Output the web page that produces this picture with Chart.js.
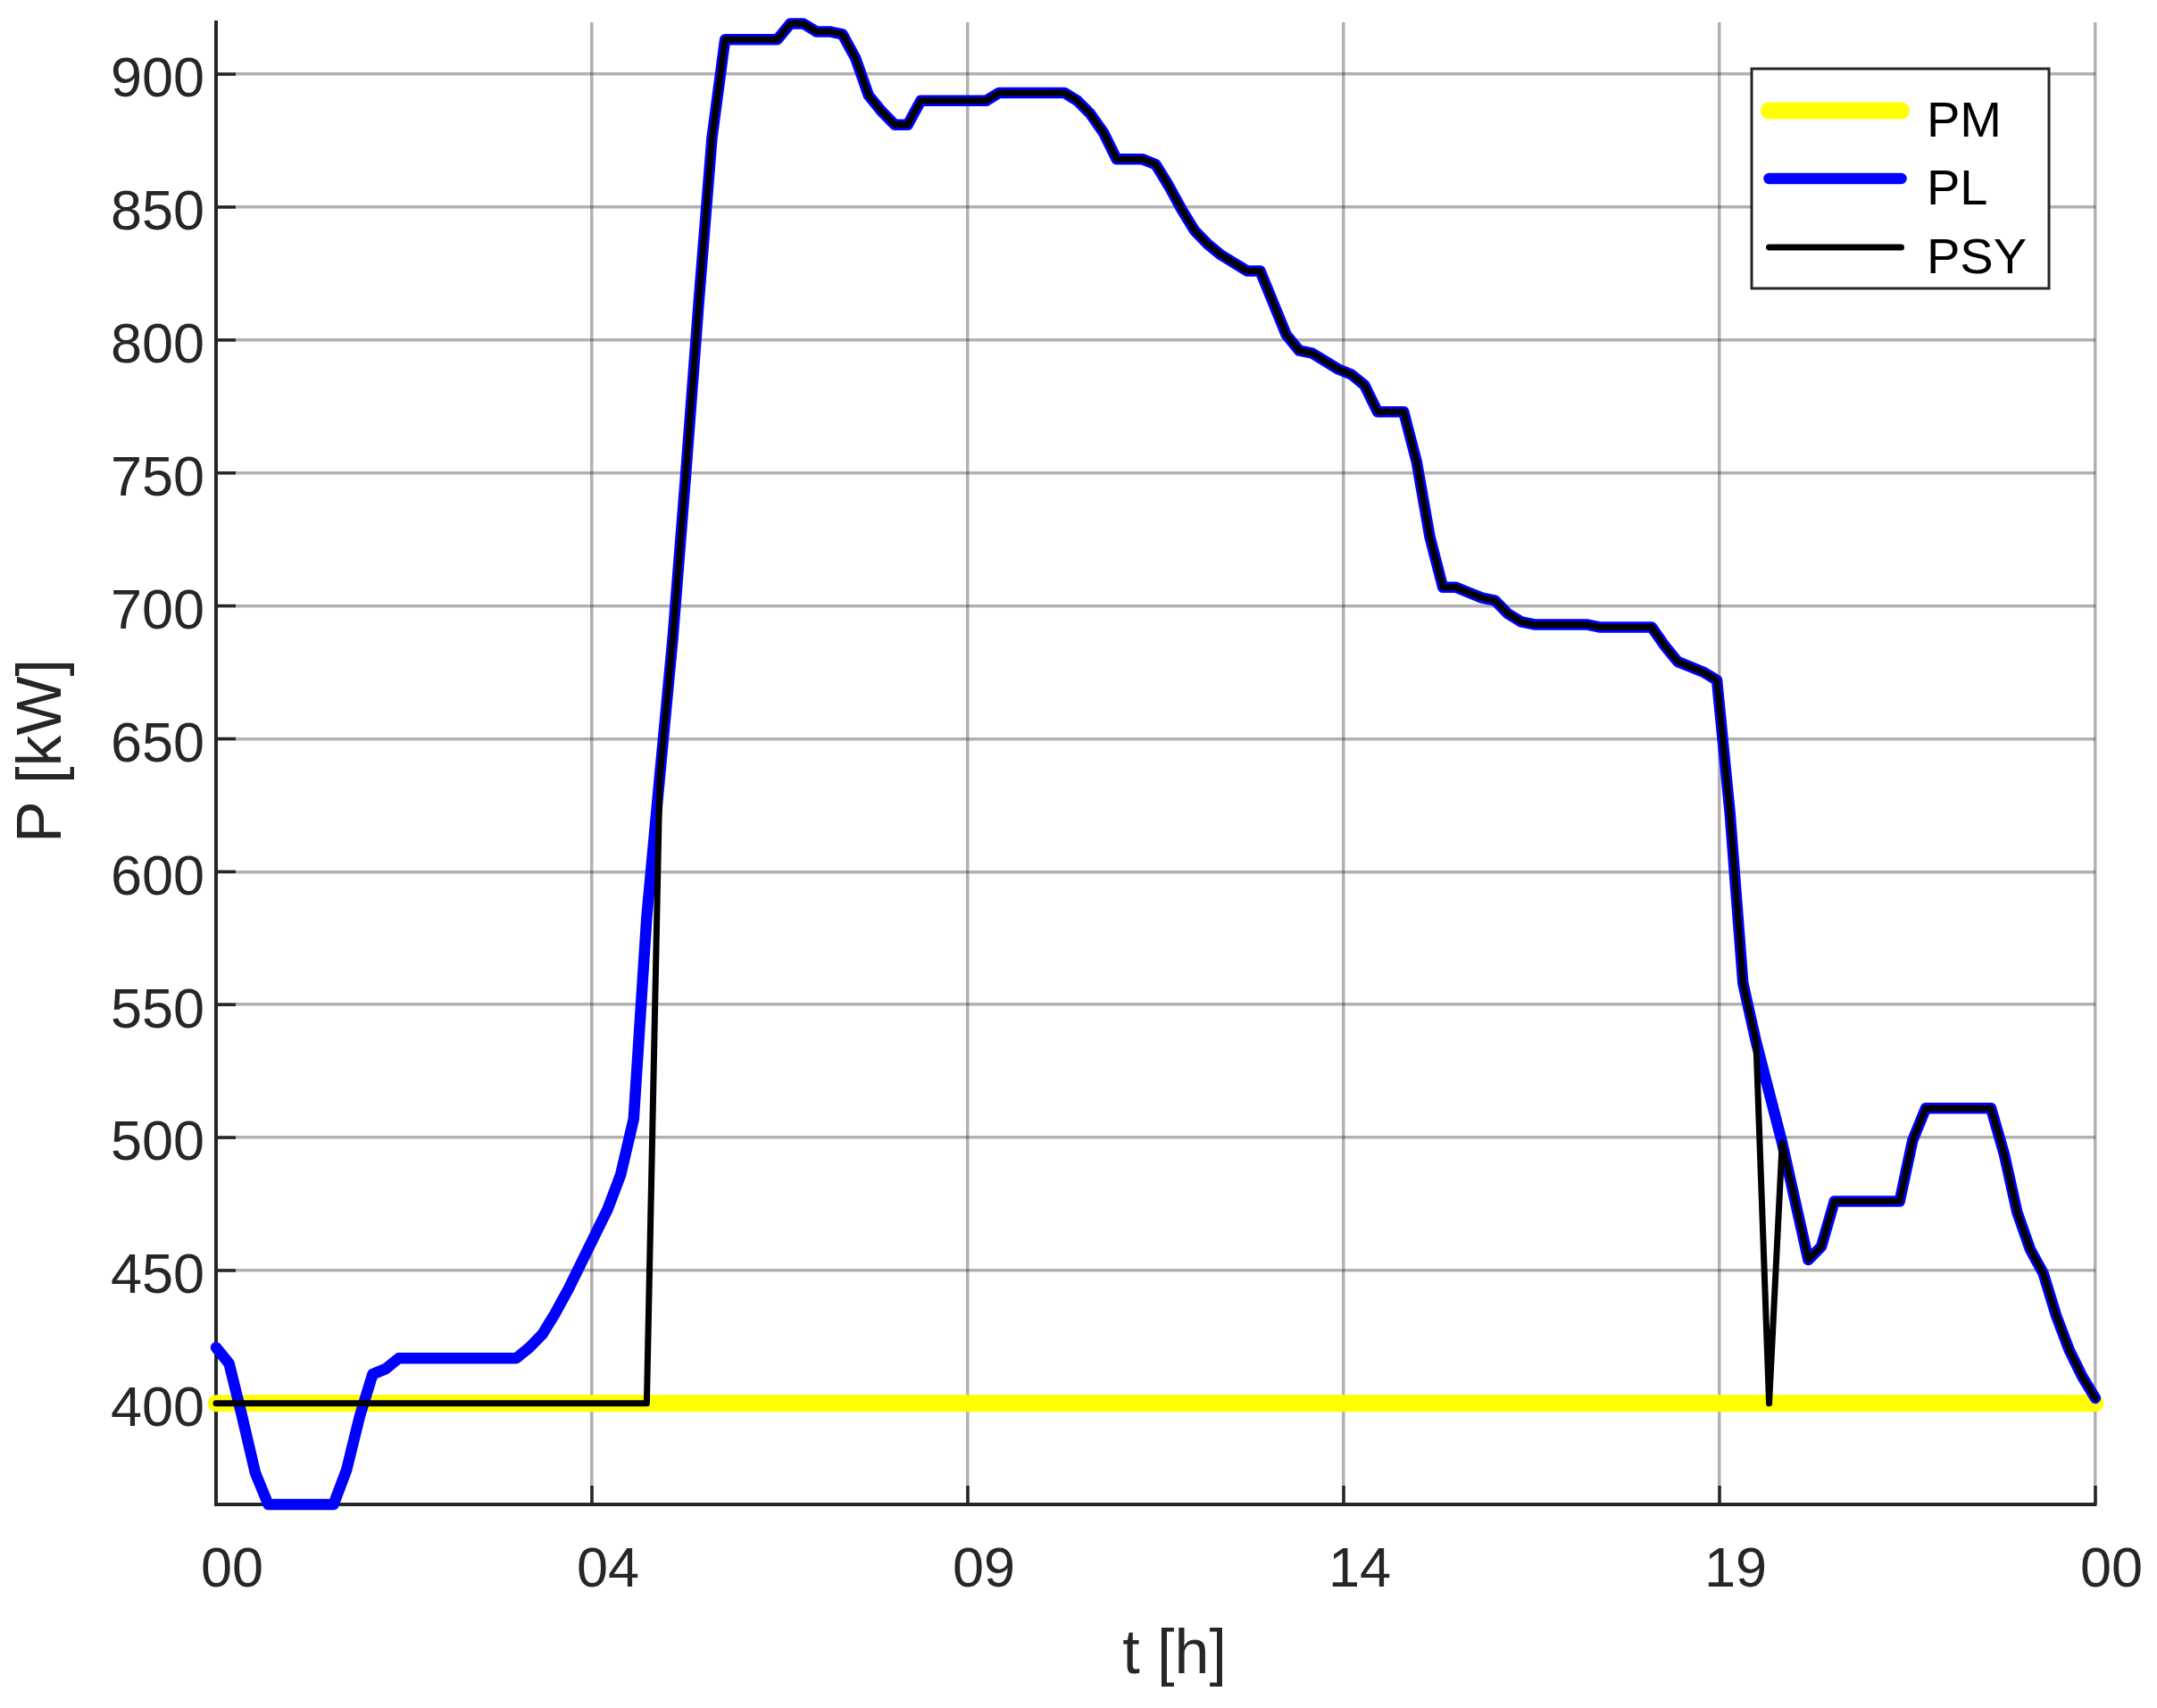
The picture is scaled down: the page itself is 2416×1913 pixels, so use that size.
<!DOCTYPE html>
<html>
<head>
<meta charset="utf-8">
<title>P [kW] over 24 h</title>
<script src="https://cdn.jsdelivr.net/npm/chart.js@4.4.1/dist/chart.umd.min.js"></script>
<style>
  html, body { margin: 0; padding: 0; background: #fff; }
  #wrap { width: 2416px; height: 1913px; }
</style>
</head>
<body>
<div id="wrap"><canvas id="powerChart"></canvas></div>
<script>
// one sample every 10 minutes, 00:00 -> 24:00 (145 samples)
const sampleMinutes = 10;

// PL load profile [kW]
const plValues = [
  421, 415, 395, 374, 362, 362, 362, 362, 362, 362,
  375, 395, 411, 413, 417, 417, 417, 417, 417, 417,
  417, 417, 417, 417, 421, 426, 434, 443, 453, 463,
  473, 486, 507, 583, 636, 688, 750, 815, 876, 913,
  913, 913, 913, 913, 919, 919, 916, 916, 915, 906,
  892, 886, 881, 881, 890, 890, 890, 890, 890, 890,
  893, 893, 893, 893, 893, 893, 890, 885, 878, 868,
  868, 868, 866, 858, 849, 841, 836, 832, 829, 826,
  826, 814, 802, 796, 795, 792, 789, 787, 783, 773,
  773, 773, 754, 726, 707, 707, 705, 703, 702, 697,
  694, 693, 693, 693, 693, 693, 692, 692, 692, 692,
  692, 685, 679, 677, 675, 672, 622, 558, 536, 517,
  498, 476, 454, 459, 476, 476, 476, 476, 476, 476,
  499, 511, 511, 511, 511, 511, 511, 494, 472, 458,
  449, 433, 420, 410, 402
];

// PSY supplied power [kW]
const psyValues = [
  400, 400, 400, 400, 400, 400, 400, 400, 400, 400,
  400, 400, 400, 400, 400, 400, 400, 400, 400, 400,
  400, 400, 400, 400, 400, 400, 400, 400, 400, 400,
  400, 400, 400, 400, 636, 688, 750, 815, 876, 913,
  913, 913, 913, 913, 919, 919, 916, 916, 915, 906,
  892, 886, 881, 881, 890, 890, 890, 890, 890, 890,
  893, 893, 893, 893, 893, 893, 890, 885, 878, 868,
  868, 868, 866, 858, 849, 841, 836, 832, 829, 826,
  826, 814, 802, 796, 795, 792, 789, 787, 783, 773,
  773, 773, 754, 726, 707, 707, 705, 703, 702, 697,
  694, 693, 693, 693, 693, 693, 692, 692, 692, 692,
  692, 685, 679, 677, 675, 672, 622, 558, 536, 400,
  498, 476, 454, 459, 476, 476, 476, 476, 476, 476,
  499, 511, 511, 511, 511, 511, 511, 494, 472, 458,
  449, 433, 420, 410, 402
];

// PM is flat over the whole day
const pmTimes = [0, 24];
const pmValues = [400, 400];

const xTickValues = [0, 4.8, 9.6, 14.4, 19.2, 24];
const xTickLabels = ['00', '04', '09', '14', '19', '00'];
const yTickValues = [400, 450, 500, 550, 600, 650, 700, 750, 800, 850, 900];

const xTitle = 't [h]';
const yTitle = 'P [kW]';

const sampleTimes = plValues.map((_, i) => i * sampleMinutes / 60);
const toPoints = (times, values) => values.map((v, i) => ({ x: times[i], y: v }));

const axisColor = '#262626';
const gridColor = 'rgba(38,38,38,0.36)';
const fontFamily = '"Liberation Sans", Arial, sans-serif';

Chart.defaults.font.family = fontFamily;
Chart.defaults.color = axisColor;

// MATLAB-style ticks pointing into the plot
const innerTicks = {
  id: 'innerTicks',
  beforeDatasetsDraw(chart) {
    const { ctx, chartArea, scales } = chart;
    ctx.save();
    ctx.strokeStyle = axisColor;
    ctx.lineWidth = 3.5;
    scales.y.ticks.forEach(t => {
      const y = scales.y.getPixelForValue(t.value);
      ctx.beginPath();
      ctx.moveTo(chartArea.left, y);
      ctx.lineTo(chartArea.left + 22, y);
      ctx.stroke();
    });
    scales.x.ticks.forEach(t => {
      const x = scales.x.getPixelForValue(t.value);
      ctx.beginPath();
      ctx.moveTo(x, chartArea.bottom);
      ctx.lineTo(x, chartArea.bottom - 21);
      ctx.stroke();
    });
    ctx.restore();
  }
};

// axis titles, placed the way the exported figure has them
const axisTitles = {
  id: 'axisTitles',
  afterDraw(chart) {
    const { ctx, chartArea } = chart;
    const midX = (chartArea.left + chartArea.right) / 2;
    const midY = (chartArea.top + chartArea.bottom) / 2;
    ctx.save();
    ctx.fillStyle = axisColor;
    ctx.font = '70px ' + fontFamily;
    ctx.textAlign = 'center';
    ctx.textBaseline = 'alphabetic';
    ctx.fillText(xTitle, midX + 21, 1874);
    ctx.translate(68, midY - 14);
    ctx.rotate(-Math.PI / 2);
    ctx.fillText(yTitle, 0, 0);
    ctx.restore();
  }
};

// boxed legend in the top right corner
const boxLegend = {
  id: 'boxLegend',
  afterDraw(chart) {
    const { ctx, chartArea } = chart;
    const w = 333, h = 246;
    const left = chartArea.right - 52 - w;
    const top = chartArea.top + 52;
    const rows = [47, 123, 200];
    ctx.save();
    ctx.fillStyle = '#fff';
    ctx.fillRect(left, top, w, h);
    ctx.strokeStyle = axisColor;
    ctx.lineWidth = 3;
    ctx.strokeRect(left, top, w, h);
    chart.data.datasets.forEach((ds, i) => {
      const y = top + rows[i];
      ctx.strokeStyle = ds.borderColor;
      ctx.lineWidth = ds.borderWidth;
      ctx.lineCap = 'round';
      ctx.beginPath();
      ctx.moveTo(left + 19.5, y);
      ctx.lineTo(left + 167.5, y);
      ctx.stroke();
      ctx.fillStyle = '#000';
      ctx.font = '56px ' + fontFamily;
      ctx.textBaseline = 'alphabetic';
      ctx.textAlign = 'left';
      ctx.fillText(ds.label, left + 196, y + 28.5);
    });
    ctx.restore();
  }
};

const lineStyle = {
  pointRadius: 0,
  tension: 0,
  borderCapStyle: 'round',
  borderJoinStyle: 'round',
  clip: 12
};

new Chart(document.getElementById('powerChart'), {
  type: 'line',
  data: {
    datasets: [
      { ...lineStyle, label: 'PM', data: toPoints(pmTimes, pmValues), borderColor: '#ffff00', borderWidth: 19, order: 3 },
      { ...lineStyle, label: 'PL', data: toPoints(sampleTimes, plValues), borderColor: '#0000ff', borderWidth: 12.5, order: 2 },
      { ...lineStyle, label: 'PSY', data: toPoints(sampleTimes, psyValues), borderColor: '#000000', borderWidth: 7, order: 1 }
    ]
  },
  options: {
    responsive: true,
    maintainAspectRatio: false,
    animation: false,
    layout: { padding: { top: 25, right: 69, left: 0, bottom: 0 } },
    plugins: {
      legend: { display: false },
      tooltip: { enabled: false }
    },
    scales: {
      x: {
        type: 'linear',
        min: 0,
        max: 24,
        afterBuildTicks: scale => { scale.ticks = xTickValues.map(v => ({ value: v })); },
        afterFit: scale => {
          scale.height = 228;
          scale.paddingLeft = 0;
          scale.paddingRight = 0;
        },
        grid: { color: gridColor, lineWidth: 3.5, drawTicks: false },
        border: { color: axisColor, width: 4 },
        ticks: {
          autoSkip: false,
          maxRotation: 0,
          padding: 37,
          labelOffset: 18,
          color: axisColor,
          font: { size: 63 },
          callback: (value, index) => xTickLabels[index]
        }
      },
      y: {
        min: 362,
        max: 919.5,
        afterBuildTicks: scale => { scale.ticks = yTickValues.map(v => ({ value: v })); },
        afterFit: scale => {
          scale.width = 242;
          scale.paddingTop = 0;
          scale.paddingBottom = 0;
        },
        grid: { color: gridColor, lineWidth: 3.5, drawTicks: false },
        border: { color: axisColor, width: 4 },
        ticks: {
          padding: 13,
          labelOffset: 8,
          color: axisColor,
          font: { size: 63 },
          callback: value => String(value)
        }
      }
    }
  },
  plugins: [innerTicks, axisTitles, boxLegend]
});
</script>
</body>
</html>
